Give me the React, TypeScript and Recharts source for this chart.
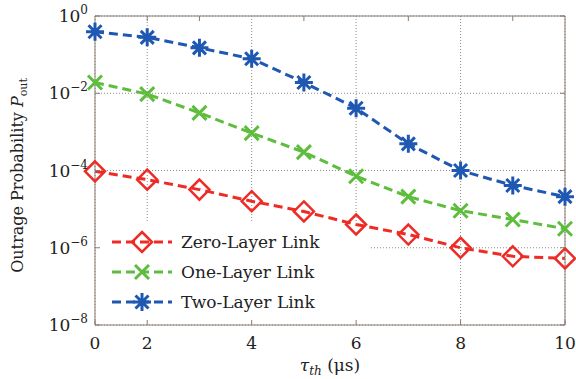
import { CartesianGrid, Customized, Line, LineChart, XAxis, YAxis } from "recharts";

// threshold tau_th (points sit at 1..10, first tick is printed as "0")
const tauPoints = [1, 2, 3, 4, 5, 6, 7, 8, 9, 10];
const zeroLayer = [9.5e-5, 5.8e-5, 3.2e-5, 1.6e-5, 8.7e-6, 4.0e-6, 2.2e-6, 1.0e-6, 6.0e-7, 5.3e-7];
const oneLayer = [1.9e-2, 9.5e-3, 3.1e-3, 9.3e-4, 3.0e-4, 7.1e-5, 2.1e-5, 9.1e-6, 5.4e-6, 3.1e-6];
const twoLayer = [0.39, 0.28, 0.15, 0.078, 0.019, 4.1e-3, 4.9e-4, 1.0e-4, 4.1e-5, 2.1e-5];

const xTicks = [1, 2, 4, 6, 8, 10];
const xTickLabels = ["0", "2", "4", "6", "8", "10"];
const yTicks = [1, 1e-2, 1e-4, 1e-6, 1e-8];
const yTickExponents = ["0", "\u22122", "\u22124", "\u22126", "\u22128"];

const SERIES = [
  { key: "zero", name: "Zero-Layer Link", color: "#ee2b25", marker: "diamond" },
  { key: "one", name: "One-Layer Link", color: "#5dbd3d", marker: "cross" },
  { key: "two", name: "Two-Layer Link", color: "#1f58b2", marker: "star" },
];

const FONT = "'DejaVu Serif', serif";
const BORDER = "#8a7c73";
const DASH = "9 5";

const data = tauPoints.map((t, i) => ({ tau: t, zero: zeroLayer[i], one: oneLayer[i], two: twoLayer[i] }));

function Marker({ kind, cx, cy, color }: { kind: string; cx: number; cy: number; color: string }) {
  if (kind === "diamond") {
    return (
      <path
        d={`M${cx},${cy - 10}L${cx + 10},${cy}L${cx},${cy + 10}L${cx - 10},${cy}Z`}
        fill="none"
        stroke={color}
        strokeWidth={2.5}
      />
    );
  }
  if (kind === "cross") {
    return (
      <path
        d={`M${cx - 7},${cy - 7}L${cx + 7},${cy + 7}M${cx - 7},${cy + 7}L${cx + 7},${cy - 7}`}
        stroke={color}
        strokeWidth={3}
      />
    );
  }
  return (
    <path
      d={`M${cx - 9},${cy}L${cx + 9},${cy}M${cx},${cy - 9}L${cx},${cy + 9}M${cx - 6.5},${cy - 6.5}L${cx + 6.5},${cy + 6.5}M${cx - 6.5},${cy + 6.5}L${cx + 6.5},${cy - 6.5}`}
      stroke={color}
      strokeWidth={3}
    />
  );
}

function BottomTick(props: any) {
  const { x, y, payload, index } = props;
  return (
    <g>
      <line x1={x} y1={y} x2={x} y2={y - 5} stroke={BORDER} />
      <text x={x} y={y + 24} textAnchor="middle" fontFamily={FONT} fontSize={17} fill="#222">
        {xTickLabels[index] ?? payload.value}
      </text>
    </g>
  );
}

function TopTick(props: any) {
  const { x, y } = props;
  return <line x1={x} y1={y} x2={x} y2={y + 5} stroke={BORDER} />;
}

function LeftTick(props: any) {
  const { x, y, index } = props;
  return (
    <g>
      <line x1={x} y1={y} x2={x + 5} y2={y} stroke={BORDER} />
      <text x={x - 7} y={y + 6} textAnchor="end" fontFamily={FONT} fill="#222">
        <tspan fontSize={17}>10</tspan>
        <tspan fontSize={12} dy={-8}>
          {yTickExponents[index]}
        </tspan>
      </text>
    </g>
  );
}

function RightTick(props: any) {
  const { x, y } = props;
  return <line x1={x} y1={y} x2={x - 5} y2={y} stroke={BORDER} />;
}

function LegendBox() {
  const rows = [242, 272, 302];
  return (
    <g>
      <rect x={97} y={223} width={272} height={101} fill="#fff" />
      {SERIES.map((s, i) => (
        <g key={s.key}>
          <line x1={112} y1={rows[i]} x2={172} y2={rows[i]} stroke={s.color} strokeWidth={3} strokeDasharray={DASH} />
          <Marker kind={s.marker} cx={142} cy={rows[i]} color={s.color} />
          <text x={181} y={rows[i] + 6} fontFamily={FONT} fontSize={17} fill="#222">
            {s.name}
          </text>
        </g>
      ))}
    </g>
  );
}

export default function App() {
  return (
    <div style={{ position: "absolute", left: 0, top: 0, background: "#fff" }}>
      <LineChart width={576} height={379} data={data} margin={{ top: 15, right: 10, bottom: 20, left: 0 }}>
        <CartesianGrid stroke="#8c8c8c" strokeDasharray="1 2" />
        <Customized component={LegendBox} />
        <XAxis
          dataKey="tau"
          type="number"
          domain={[1, 10]}
          ticks={xTicks}
          height={34}
          tickSize={0}
          tickMargin={0}
          stroke={BORDER}
          tick={<BottomTick />}
          interval={0}
          label={{
            content: (p: any) => {
              const vb = p.viewBox;
              return (
                <text x={vb.x + vb.width / 2} y={vb.y + 46} textAnchor="middle" fontFamily={FONT} fill="#222">
                  <tspan fontSize={17} fontStyle="italic">
                    τ
                  </tspan>
                  <tspan fontSize={12} fontStyle="italic" dy={4}>
                    th
                  </tspan>
                  <tspan fontSize={17} dy={-4}>
                    {" (μs)"}
                  </tspan>
                </text>
              );
            },
          }}
        />
        <XAxis
          xAxisId="top"
          orientation="top"
          type="number"
          domain={[1, 10]}
          ticks={xTicks}
          height={1}
          tickSize={0}
          tickMargin={0}
          stroke={BORDER}
          tick={<TopTick />}
          interval={0}
        />
        <YAxis
          scale="log"
          domain={[1e-8, 1]}
          allowDataOverflow
          ticks={yTicks}
          width={95}
          tickSize={0}
          tickMargin={0}
          stroke={BORDER}
          tick={<LeftTick />}
          interval={0}
          label={{
            content: (p: any) => {
              const vb = p.viewBox;
              const cy = vb.y + vb.height / 2 + 5;
              return (
                <text
                  x={23}
                  y={cy}
                  transform={`rotate(-90 23 ${cy})`}
                  textAnchor="middle"
                  fontFamily={FONT}
                  fill="#222"
                >
                  <tspan fontSize={16}>Outrage Probability </tspan>
                  <tspan fontSize={16} fontStyle="italic">
                    P
                  </tspan>
                  <tspan fontSize={11} dy={4}>
                    out
                  </tspan>
                </text>
              );
            },
          }}
        />
        <YAxis
          yAxisId="right"
          orientation="right"
          scale="log"
          domain={[1e-8, 1]}
          allowDataOverflow
          ticks={yTicks}
          width={1}
          tickSize={0}
          tickMargin={0}
          stroke={BORDER}
          tick={<RightTick />}
          interval={0}
        />
        {SERIES.map((s) => (
          <Line
            key={s.key}
            dataKey={s.key}
            type="linear"
            stroke={s.color}
            strokeWidth={3}
            strokeDasharray={DASH}
            isAnimationActive={false}
            activeDot={false}
            dot={(p: any) => <Marker key={`${s.key}-${p.index}`} kind={s.marker} cx={p.cx} cy={p.cy} color={s.color} />}
          />
        ))}
      </LineChart>
    </div>
  );
}
